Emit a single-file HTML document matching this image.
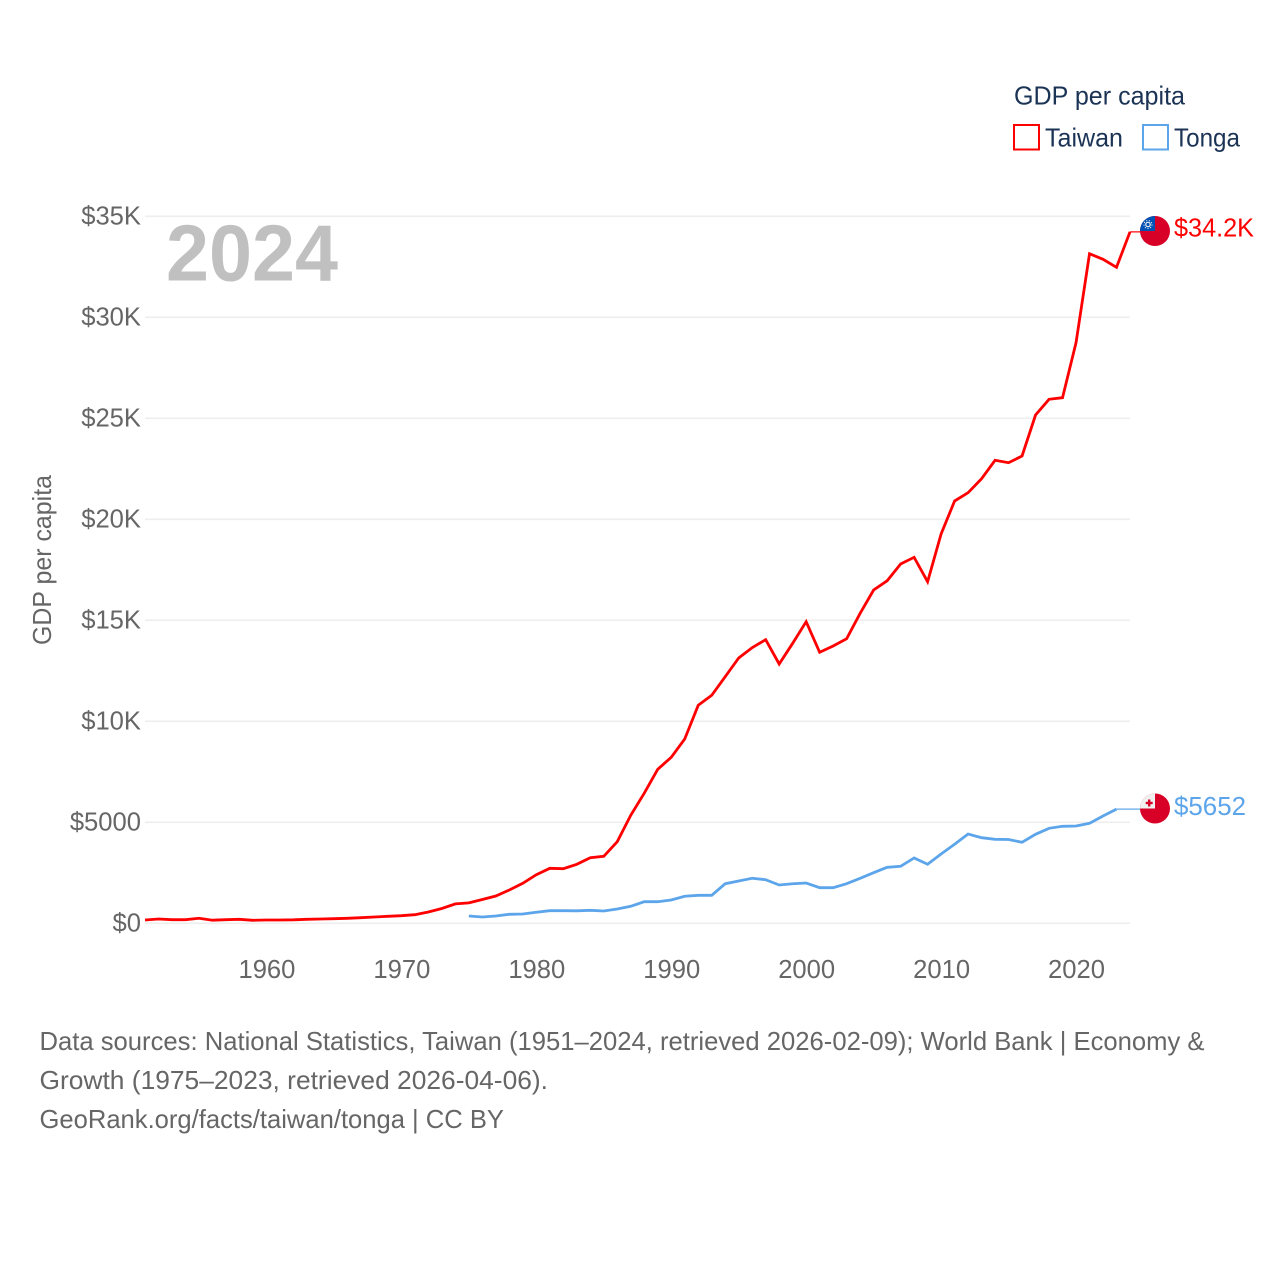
<!DOCTYPE html>
<html lang="en">
<head>
<meta charset="utf-8">
<title>GDP per capita: Taiwan and Tonga</title>
<style>
  html, body { margin: 0; padding: 0; background: #ffffff; }
  #chart { display: block; width: 1280px; height: 1280px; font-family: "Liberation Sans", sans-serif; }
  text { font-family: "Liberation Sans", sans-serif; }
</style>
</head>
<body>
<svg id="chart" xmlns="http://www.w3.org/2000/svg" width="1280" height="1280" viewBox="0 0 1280 1280">
  <defs>
    <clipPath id="clip-flag-taiwan"><circle cx="1155" cy="231" r="15"></circle></clipPath>
    <clipPath id="clip-flag-tonga"><circle cx="1155" cy="808.5" r="15"></circle></clipPath>
  </defs>

  <g id="grid"></g>
  <g id="y-axis"></g>
  <g id="x-axis"></g>

  <text x="166" y="280.5" font-size="80" font-weight="700" fill="#c0c0c0" textLength="172" lengthAdjust="spacingAndGlyphs">2024</text>

  <text transform="translate(51,645) rotate(-90)" font-size="25.6" fill="#666666" textLength="170" lengthAdjust="spacingAndGlyphs">GDP per capita</text>

  <g id="series"></g>

  <g>
    <text x="1014" y="104.5" font-size="25.6" fill="#1b3354" textLength="171" lengthAdjust="spacingAndGlyphs">GDP per capita</text>
    <rect x="1014" y="125" width="25" height="24.5" fill="none" stroke="#ff0000" stroke-width="2"></rect>
    <text x="1045" y="146.5" font-size="25.6" fill="#1b3354" textLength="78" lengthAdjust="spacingAndGlyphs">Taiwan</text>
    <rect x="1143" y="125" width="25" height="24.5" fill="none" stroke="#5da5ea" stroke-width="2"></rect>
    <text x="1174" y="146.5" font-size="25.6" fill="#1b3354" textLength="66" lengthAdjust="spacingAndGlyphs">Tonga</text>
  </g>

  <g clip-path="url(#clip-flag-taiwan)">
    <rect x="1140" y="216" width="30" height="30" fill="#d80027"></rect>
    <rect x="1140" y="216" width="15" height="15" fill="#0052b4"></rect>
    <circle cx="1148" cy="224.5" r="2.2" fill="none" stroke="#f0f0f0" stroke-width="1.2"></circle>
    <circle cx="1148" cy="224.5" r="4" fill="none" stroke="#f0f0f0" stroke-width="1" stroke-dasharray="1.2 1.6"></circle>
  </g>
  <g clip-path="url(#clip-flag-tonga)">
    <rect x="1140" y="793" width="30" height="31" fill="#d80027"></rect>
    <rect x="1140" y="793" width="15" height="15.5" fill="#f0f0f0"></rect>
    <rect x="1148" y="799.5" width="2.4" height="7" fill="#d80027"></rect>
    <rect x="1145.7" y="801.8" width="7" height="2.4" fill="#d80027"></rect>
  </g>

  <text x="1174" y="236.5" font-size="25.6" fill="#ff0000" textLength="80" lengthAdjust="spacingAndGlyphs">$34.2K</text>
  <text x="1174" y="815" font-size="25.6" fill="#5da5ea" textLength="72" lengthAdjust="spacingAndGlyphs">$5652</text>

  <g>
    <text x="39.5" y="1050" font-size="26" fill="#666666" textLength="1165" lengthAdjust="spacingAndGlyphs">Data sources: National Statistics, Taiwan (1951–2024, retrieved 2026-02-09); World Bank | Economy &amp;</text>
    <text x="39.5" y="1089" font-size="26" fill="#666666" textLength="508.5" lengthAdjust="spacingAndGlyphs">Growth (1975–2023, retrieved 2026-04-06).</text>
    <text x="39.5" y="1128" font-size="26" fill="#666666" textLength="464.5" lengthAdjust="spacingAndGlyphs">GeoRank.org/facts/taiwan/tonga | CC BY</text>
  </g>
</svg>

<script>
const taiwanStartYear = 1951;
const tongaStartYear = 1975;
const taiwanValues = [165,213,178,178,248,153,178,198,149,163,163,173,198,213,228,248,277,312,347,376,426,559,733,960,1010,1178,1351,1649,1980,2406,2723,2703,2921,3248,3317,4040,5347,6441,7624,8218,9124,10792,11287,12208,13134,13644,14040,12837,13861,14931,13416,13728,14089,15347,16500,16955,17787,18119,16911,19272,20906,21317,22010,22921,22802,23134,25163,25941,26020,28743,33149,32871,32475,34230];
const tongaValues = [361,312,361,446,460,545,624,624,619,644,609,708,842,1069,1069,1153,1337,1386,1386,1960,2094,2228,2158,1896,1960,1995,1762,1762,1960,2228,2505,2772,2822,3233,2921,3431,3911,4421,4238,4158,4149,4010,4406,4703,4802,4817,4950,5312,5652];
const yTickValues = [0,5000,10000,15000,20000,25000,30000,35000];
const yTickLabels = ["$0","$5000","$10K","$15K","$20K","$25K","$30K","$35K"];
const xTickYears = [1960,1970,1980,1990,2000,2010,2020];

const SVG_NS = "http://www.w3.org/2000/svg";
function xScale(year) { return 145 + (year - 1951) * (985 / 73); }
function yScale(value) { return 923.3 - value * 0.0202; }

const gridGroup = document.getElementById("grid");
const yAxisGroup = document.getElementById("y-axis");
const xAxisGroup = document.getElementById("x-axis");
const seriesGroup = document.getElementById("series");

yTickValues.forEach(function (value, i) {
  const line = document.createElementNS(SVG_NS, "line");
  
  
  line.setAttribute("x1", 145);
  line.setAttribute("x2", xScale(2024));
  line.setAttribute("y1", yScale(value));
  line.setAttribute("y2", yScale(value));
  line.setAttribute("stroke", "#eeeeee");
  line.setAttribute("stroke-width", "1.6");
  gridGroup.appendChild(line);

  const label = document.createElementNS(SVG_NS, "text");
  
  
  label.setAttribute("x", 141);
  label.setAttribute("y", yScale(value) + 8);
  label.setAttribute("text-anchor", "end");
  label.setAttribute("font-size", "25.6");
  label.setAttribute("fill", "#666666");
  label.textContent = yTickLabels[i];
  yAxisGroup.appendChild(label);
});

xTickYears.forEach(function (year) {
  const label = document.createElementNS(SVG_NS, "text");
  
  
  label.setAttribute("x", xScale(year) + 0.5);
  label.setAttribute("y", 978);
  label.setAttribute("text-anchor", "middle");
  label.setAttribute("font-size", "25.6");
  label.setAttribute("fill", "#666666");
  label.textContent = String(year);
  xAxisGroup.appendChild(label);
});

function linePoints(values, startYear) {
  return values.map(function (value, i) {
    return xScale(startYear + i).toFixed(2) + "," + yScale(value).toFixed(2);
  }).join(" ");
}

function drawConnector(name, values, startYear, color) {
  const last = values[values.length - 1];
  const connector = document.createElementNS(SVG_NS, "line");
  
  
  connector.setAttribute("x1", xScale(startYear + values.length - 1));
  connector.setAttribute("x2", 1141);
  connector.setAttribute("y1", yScale(last));
  connector.setAttribute("y2", yScale(last));
  connector.setAttribute("stroke", color);
  connector.setAttribute("stroke-width", "1.5");
  connector.setAttribute("stroke-opacity", "0.8");
  seriesGroup.appendChild(connector);
}

function drawLine(name, values, startYear, color) {
  const poly = document.createElementNS(SVG_NS, "polyline");
  
  
  poly.setAttribute("points", linePoints(values, startYear));
  poly.setAttribute("fill", "none");
  poly.setAttribute("stroke", color);
  poly.setAttribute("stroke-width", "2.8");
  poly.setAttribute("stroke-linejoin", "miter");
  seriesGroup.appendChild(poly);
}

drawConnector("connector-tonga", tongaValues, tongaStartYear, "#5da5ea");
drawConnector("connector-taiwan", taiwanValues, taiwanStartYear, "#ff0000");
drawLine("line-tonga", tongaValues, tongaStartYear, "#5da5ea");
drawLine("line-taiwan", taiwanValues, taiwanStartYear, "#ff0000");
</script>
</body>
</html>
